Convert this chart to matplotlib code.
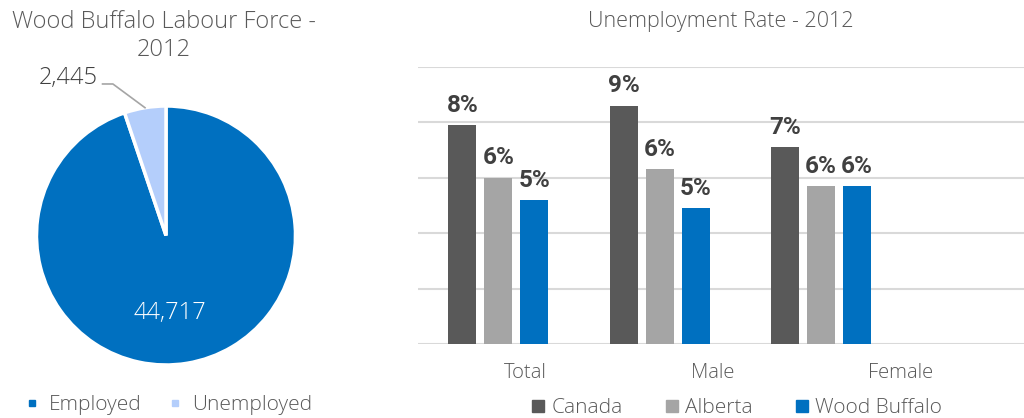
import numpy as np
import matplotlib
matplotlib.use("Agg")
import matplotlib.pyplot as plt
from matplotlib.lines import Line2D

plt.rcParams['font.family'] = ['Open Sans', 'DejaVu Sans']

# data
pie_labels = ['Employed', 'Unemployed']
pie_values = [44717, 2445]
pie_colors = ['#0070C0', '#B4CEFB']

categories = ['Total', 'Male', 'Female']
series = ['Canada', 'Alberta', 'Wood Buffalo']
canada = [7.9, 8.6, 7.1]
alberta = [6.0, 6.3, 5.7]
wood_buffalo = [5.2, 4.9, 5.7]
bar_labels = [['8%', '9%', '7%'], ['6%', '6%', '6%'], ['5%', '5%', '6%']]
bar_colors = ['#595959', '#A5A5A5', '#0070C0']

txt = '#595959'
dark = '#404040'
lw = 'light'

fig = plt.figure(figsize=(10.24, 4.18), dpi=100)
W, H = 1024, 418

# ---- pie ----
cx, cy, r = 166, 235.5, 129.5
axp = fig.add_axes([(cx - r) / W, (H - cy - r) / H, 2 * r / W, 2 * r / H])
wedges, _ = axp.pie(pie_values, colors=pie_colors, startangle=90, counterclock=False,
                    wedgeprops=dict(edgecolor='white', linewidth=2.5))
axp.set_xlim(-1, 1)
axp.set_ylim(-1, 1)
axp.set_aspect('equal')
axp.axis('off')

axp.text(0.03, -0.6, f'{pie_values[0]:,}', color='white', fontsize=17,
         fontweight=lw, ha='center', va='center')

w = wedges[1]
mid = np.deg2rad((w.theta1 + w.theta2) / 2)
px, py = np.cos(mid), np.sin(mid)
ly = 1.17
axp.plot([-0.49, -0.41, px], [ly, ly, py], color='#A5A5A5', lw=1.2, clip_on=False)
axp.text(-0.53, ly + 0.05, f'{pie_values[1]:,}', color=dark, fontsize=17,
         fontweight=lw, ha='right', va='center')

fig.text(164 / W, 1 - 36 / H, 'Wood Buffalo Labour Force -\n2012', color=txt,
         fontsize=17, fontweight=lw, ha='center', va='center', linespacing=1.22)

h1 = [Line2D([], [], marker='s', ls='', color=c, markersize=5) for c in pie_colors]
fig.legend(h1, pie_labels, loc='center', bbox_to_anchor=(169 / W, 1 - 405 / H),
           ncol=2, frameon=False, labelcolor=txt, handlelength=0.6,
           handletextpad=0.5, columnspacing=1.3, prop=dict(weight=lw, size=15))

# ---- bars ----
x0, x1, y0, y1 = 417.7, 1024, 344.3, 66.7
axb = fig.add_axes([x0 / W, (H - y0) / H, (x1 - x0) / W, (y0 - y1) / H])
grp = 161.3
x = np.arange(len(categories))
bw = 28 / grp
off = 36 / grp
for i, (vals, c) in enumerate(zip([canada, alberta, wood_buffalo], bar_colors)):
    bars = axb.bar(x + (i - 1) * off, vals, width=bw, color=c, zorder=3, label=series[i])
    for b, lab in zip(bars, bar_labels[i]):
        axb.annotate(lab, (b.get_x() + b.get_width() / 2, b.get_height()),
                     xytext=(0, 6), textcoords='offset points', ha='center', va='bottom',
                     fontsize=17.5, fontweight='bold', color=dark, family='Roboto')
axb.set_xlim(-0.5, (x1 - x0) / grp - 0.5)
axb.set_ylim(0, 10)
axb.set_yticks([0, 2, 4, 6, 8, 10])
axb.yaxis.grid(True, color='#D9D9D9', lw=1.5, zorder=0)
axb.tick_params(axis='y', left=False, labelleft=False)
label_pos = [(p - x0) / grp - 0.5 for p in (525, 713, 901)]
axb.set_xticks(label_pos)
axb.set_xticklabels(categories, color=txt, fontsize=14.5, fontweight=lw)
axb.tick_params(axis='x', bottom=False, pad=10)
for s in axb.spines.values():
    s.set_visible(False)

fig.text(721 / W, 1 - 21 / H, 'Unemployment Rate - 2012', color=txt, fontsize=15.5,
         fontweight=lw, ha='center', va='center')

h2 = [Line2D([], [], marker='s', ls='', color=c, markersize=8.5) for c in bar_colors]
fig.legend(h2, series, loc='center', bbox_to_anchor=(736.5 / W, 1 - 408 / H),
           ncol=3, frameon=False, labelcolor=txt, handlelength=0.7,
           handletextpad=0.3, columnspacing=2.0, prop=dict(weight=lw, size=15))

fig.savefig('out.png', dpi=100)
